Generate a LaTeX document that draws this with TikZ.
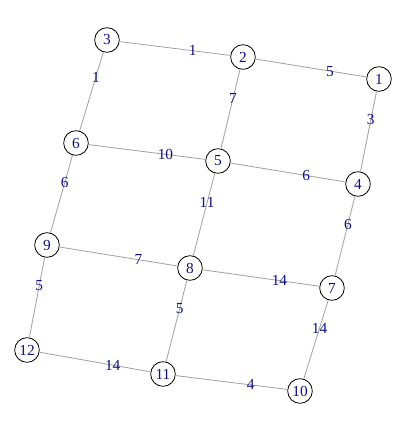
\documentclass[tikz,border=0pt]{standalone}
\usepackage{fontspec}
\setmainfont{Liberation Serif}
\usetikzlibrary{calc}
\definecolor{lblblue}{RGB}{15,15,140}
\definecolor{edgegray}{RGB}{160,160,160}
\begin{document}
\begin{tikzpicture}[x=0.75pt,y=-0.75pt,
  vtx/.style={circle,draw=black,line width=0.6pt,minimum size=18.5pt,inner sep=0pt,text=lblblue,font=\fontsize{11.5}{13}\selectfont},
  edg/.style={draw=edgegray,line width=0.6pt},
  lbl/.style={inner sep=0pt,text=lblblue,font=\fontsize{11.5}{13}\selectfont}]
\useasboundingbox (0,0) rectangle (408,424);
\node[vtx] (n3) at (107,40) {3};
\node[vtx] (n2) at (243,57) {2};
\node[vtx] (n1) at (379,79) {1};
\node[vtx] (n6) at (76,143) {6};
\node[vtx] (n5) at (218,161) {5};
\node[vtx] (n4) at (358,184) {4};
\node[vtx] (n9) at (47,245) {9};
\node[vtx] (n8) at (190,268) {8};
\node[vtx] (n7) at (332,288) {7};
\node[vtx] (n12) at (27,350) {12};
\node[vtx] (n11) at (163,374) {11};
\node[vtx] (n10) at (300,391) {10};
\draw[edg] (n3) -- (n2);
\draw[edg] (n2) -- (n1);
\draw[edg] (n1) -- (n4);
\draw[edg] (n3) -- (n6);
\draw[edg] (n2) -- (n5);
\draw[edg] (n6) -- (n5);
\draw[edg] (n5) -- (n4);
\draw[edg] (n6) -- (n9);
\draw[edg] (n5) -- (n8);
\draw[edg] (n4) -- (n7);
\draw[edg] (n9) -- (n8);
\draw[edg] (n8) -- (n7);
\draw[edg] (n9) -- (n12);
\draw[edg] (n8) -- (n11);
\draw[edg] (n7) -- (n10);
\draw[edg] (n12) -- (n11);
\draw[edg] (n11) -- (n10);
\node[lbl] (l32) at ($(n3)!0.63!(n2)$) {1};
\node[lbl] (l21) at ($(n2)!0.64!(n1)$) {5};
\node[lbl] (l14) at ($(n1)!0.39!(n4)$) {3};
\node[lbl] (l36) at ($(n3)!0.36!(n6)$) {1};
\node[lbl] (l25) at ($(n2)!0.40!(n5)$) {7};
\node[lbl] (l65) at ($(n6)!0.63!(n5)$) {10};
\node[lbl] (l54) at ($(n5)!0.63!(n4)$) {6};
\node[lbl] (l69) at ($(n6)!0.39!(n9)$) {6};
\node[lbl] (l58) at ($(n5)!0.39!(n8)$) {11};
\node[lbl] (l47) at ($(n4)!0.39!(n7)$) {6};
\node[lbl] (l98) at ($(n9)!0.64!(n8)$) {7};
\node[lbl] (l87) at ($(n8)!0.63!(n7)$) {14};
\node[lbl] (l912) at ($(n9)!0.39!(n12)$) {5};
\node[lbl] (l811) at ($(n8)!0.38!(n11)$) {5};
\node[lbl] (l710) at ($(n7)!0.39!(n10)$) {14};
\node[lbl] (l1211) at ($(n12)!0.63!(n11)$) {14};
\node[lbl] (l1110) at ($(n11)!0.64!(n10)$) {4};
\end{tikzpicture}
\end{document}
